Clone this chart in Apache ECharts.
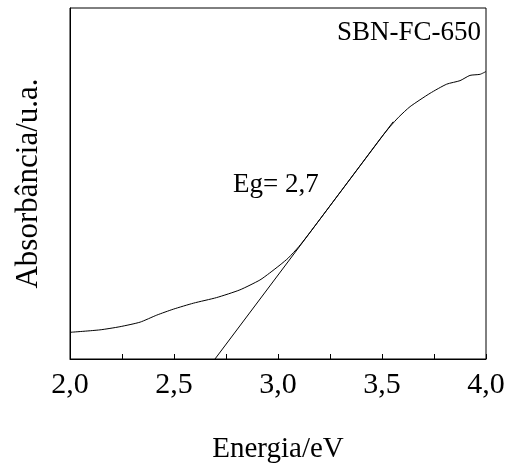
<!DOCTYPE html>
<html><head><meta charset="utf-8">
<script src="https://cdn.jsdelivr.net/npm/echarts@6/dist/echarts.min.js"></script>
<style>html,body{margin:0;padding:0;background:#fff}#c{width:515px;height:471px}</style>
</head><body><div id="c"></div>
<script>
const energy = [2.0,2.144,2.24,2.337,2.417,2.497,2.593,2.705,2.817,2.913,2.96,3.01,3.05,3.1,3.14,3.2,3.3,3.4,3.5,3.54,3.58,3.635,3.731,3.811,3.875,3.923,3.971,4.0];
const absorbance = [7.6,8.3,9.2,10.5,12.5,14.2,15.9,17.5,19.7,22.5,24.5,26.8,28.8,32.0,35.0,39.7,47.6,55.5,63.4,66.3,68.9,71.9,75.7,78.3,79.3,80.8,81.1,81.9];
const tangentX = [2.697, 3.554];
const tangentY = [0, 67.6];
const xTicks = [2.0,2.5,3.0,3.5,4.0];
const font = '"Liberation Serif", "DejaVu Serif", serif';

const chart = echarts.init(document.getElementById('c'), null, {renderer:'canvas'});
chart.setOption({
  animation:false,
  grid:{left:70,right:29,top:8,bottom:112,containLabel:false,outerBoundsMode:'none',
    show:true,borderColor:'#000',borderWidth:1,backgroundColor:'transparent'},
  xAxis:{type:'value',min:2,max:4,interval:0.5,
    name:'Energia/eV',nameLocation:'middle',nameGap:76,
    nameTextStyle:{fontFamily:font,fontSize:29,color:'#000'},
    axisLine:{lineStyle:{color:'#000',width:1}},
    axisTick:{inside:true,length:5,lineStyle:{color:'#000'}},
    minorTick:{show:true,splitNumber:2,length:5,lineStyle:{color:'#000'}},
    splitLine:{show:false},
    axisLabel:{fontFamily:font,fontSize:30,color:'#000',margin:11,
      formatter:v=>v.toFixed(1).replace('.',',')}},
  yAxis:{type:'value',min:0,max:100,
    name:'Absorbância/u.a.',nameLocation:'middle',nameGap:26,nameRotate:90,
    nameTextStyle:{fontFamily:font,fontSize:31,color:'#000'},
    axisLine:{show:true,lineStyle:{color:'#000',width:1}},
    axisTick:{show:false},axisLabel:{show:false},splitLine:{show:false}},
  series:[
    {type:'line',data:energy.map((x,i)=>[x,absorbance[i]]),showSymbol:false,smooth:0.2,
      lineStyle:{color:'#000',width:1}},
    {type:'line',data:tangentX.map((x,i)=>[x,tangentY[i]]),showSymbol:false,
      lineStyle:{color:'#000',width:1}}
  ],
  graphic:[
    {type:'text',left:337,top:19,style:{text:'SBN-FC-650',font:'27px '+font,fill:'#000'}},
    {type:'text',left:233,top:171,style:{text:'Eg= 2,7',font:'27px '+font,fill:'#000'}}
  ]
});
</script></body></html>
